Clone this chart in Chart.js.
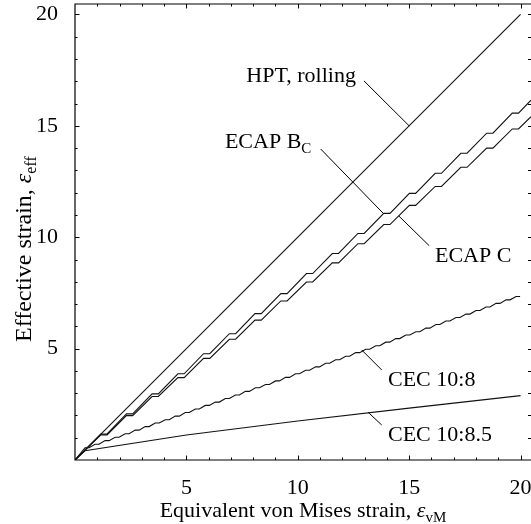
<!DOCTYPE html>
<html>
<head>
<meta charset="utf-8">
<script src="https://cdn.jsdelivr.net/npm/chart.js@4.4.0/dist/chart.umd.min.js"></script>
<style>
  html, body { margin: 0; padding: 0; background: #fff; }
</style>
</head>
<body>
<canvas id="strainChart" width="531" height="524"></canvas>
<script>
//-------------------- data --------------------
const xTickValues = [5, 10, 15, 20];
const yTickValues = [5, 10, 15, 20];

// HPT, rolling
const hptX = [0, 20];
const hptY = [0, 20];

// ECAP Bc (upper staircase)
const ecapBcX = [0, 1.16, 1.44, 2.31, 2.59, 3.46, 3.74, 4.62, 4.90, 5.77, 6.05, 6.93, 7.21, 8.08, 8.36,
  9.24, 9.52, 10.39, 10.67, 11.55, 11.83, 12.70, 12.98, 13.86, 14.14, 15.01, 15.29, 16.17, 16.45,
  17.32, 17.60, 18.48, 18.76, 19.63, 19.91, 20.47];
const ecapBcY = [0, 1.17, 1.17, 2.07, 2.07, 2.97, 2.97, 3.87, 3.87, 4.77, 4.77, 5.67, 5.67, 6.57, 6.57,
  7.47, 7.47, 8.37, 8.37, 9.27, 9.27, 10.17, 10.17, 11.07, 11.07, 11.97, 11.97, 12.87, 12.87,
  13.77, 13.77, 14.67, 14.67, 15.57, 15.57, 16.15];

// ECAP C (lower staircase)
const ecapCX = [0, 1.16, 1.44, 2.31, 2.59, 3.46, 3.74, 4.62, 4.90, 5.77, 6.05, 6.93, 7.21, 8.08, 8.36,
  9.24, 9.52, 10.39, 10.67, 11.55, 11.83, 12.70, 12.98, 13.86, 14.14, 15.01, 15.29, 16.17, 16.45,
  17.32, 17.60, 18.48, 18.76, 19.63, 19.91, 20.47];
const ecapCY = [0, 1.13, 1.13, 1.99, 1.99, 2.85, 2.85, 3.70, 3.70, 4.56, 4.56, 5.42, 5.42, 6.28, 6.28,
  7.14, 7.14, 7.99, 7.99, 8.85, 8.85, 9.71, 9.71, 10.57, 10.57, 11.43, 11.43, 12.28, 12.28,
  13.14, 13.14, 14.00, 14.00, 14.86, 14.86, 15.41];

// CEC 10:8 (small steps)
const cec8X = [0, 0.45, 0.63, 0.90, 1.08, 1.35, 1.53, 1.80, 1.98, 2.25, 2.43, 2.70, 2.88, 3.15, 3.33,
  3.60, 3.78, 4.05, 4.23, 4.50, 4.68, 4.95, 5.13, 5.40, 5.58, 5.85, 6.03, 6.30, 6.48, 6.75, 6.93,
  7.20, 7.38, 7.65, 7.83, 8.10, 8.28, 8.55, 8.73, 9.00, 9.18, 9.45, 9.63, 9.90, 10.08, 10.35, 10.53,
  10.80, 10.98, 11.25, 11.43, 11.70, 11.88, 12.15, 12.33, 12.60, 12.78, 13.05, 13.23, 13.50, 13.68,
  13.95, 14.13, 14.40, 14.58, 14.85, 15.03, 15.30, 15.48, 15.75, 15.93, 16.20, 16.38, 16.65, 16.83,
  17.10, 17.28, 17.55, 17.73, 18.00, 18.18, 18.45, 18.63, 18.90, 19.08, 19.35, 19.53, 19.80, 19.98];
const cec8Y = [0, 0.55, 0.55, 0.71, 0.71, 0.87, 0.87, 1.02, 1.02, 1.18, 1.18, 1.34, 1.34, 1.50, 1.50,
  1.66, 1.66, 1.81, 1.81, 1.97, 1.97, 2.13, 2.13, 2.29, 2.29, 2.45, 2.45, 2.60, 2.60, 2.76, 2.76,
  2.92, 2.92, 3.08, 3.08, 3.24, 3.24, 3.39, 3.39, 3.55, 3.55, 3.71, 3.71, 3.87, 3.87, 4.03, 4.03,
  4.18, 4.18, 4.34, 4.34, 4.50, 4.50, 4.66, 4.66, 4.82, 4.82, 4.97, 4.97, 5.13, 5.13,
  5.29, 5.29, 5.45, 5.45, 5.61, 5.61, 5.76, 5.76, 5.92, 5.92, 6.08, 6.08, 6.24, 6.24,
  6.40, 6.40, 6.55, 6.55, 6.71, 6.71, 6.87, 6.87, 7.03, 7.03, 7.19, 7.19, 7.34, 7.34];

// CEC 10:8.5
const cec85X = [0, 0.45, 5, 10, 15, 20];
const cec85Y = [0, 0.42, 1.12, 1.75, 2.33, 2.89];

//-------------------- helpers --------------------
const serif = '"Liberation Serif", "Times New Roman", serif';
const toPoints = (xs, ys) => xs.map((v, i) => ({ x: v, y: ys[i] }));

// draws a run of text pieces (plain, italic symbol, subscript) one after another
function drawRich(ctx, parts, x, y, align) {
  const widths = parts.map(p => { ctx.font = p.font; return ctx.measureText(p.text).width; });
  const total = widths.reduce((a, b) => a + b, 0);
  let cx = align === 'center' ? x - total / 2 : x;
  parts.forEach((p, i) => {
    ctx.font = p.font;
    ctx.fillText(p.text, cx, y + (p.dy || 0));
    cx += widths[i];
  });
}

// callouts, positions in data units
const labels = [
  { parts: [{ text: 'HPT, rolling' }], at: [12.61, 16.97], align: 'right', leader: [[12.97, 17.02], [15.0, 15.0]] },
  { parts: [{ text: 'ECAP B' }, { text: 'C', sub: true }], at: [6.73, 14.0], align: 'left', leader: [[11.03, 13.96], [13.84, 11.07]] },
  { parts: [{ text: 'ECAP C' }], at: [16.16, 8.91], align: 'left', leader: [[15.9, 9.62], [14.54, 10.95]] },
  { parts: [{ text: 'CEC 10:8' }], at: [14.05, 3.32], align: 'left', leader: [[13.77, 4.04], [12.87, 4.94]] },
  { parts: [{ text: 'CEC 10:8.5' }], at: [14.05, 0.85], align: 'left', leader: [[13.77, 1.57], [13.16, 2.14]] }
];

const framePlugin = {
  id: 'frame',
  afterDatasetsDraw(chart) {
    const { ctx, chartArea: a, scales: { x, y } } = chart;
    ctx.save();
    ctx.strokeStyle = '#000';
    ctx.lineWidth = 1.2;
    ctx.beginPath();
    ctx.moveTo(a.right + 1, a.top);
    ctx.lineTo(a.left, a.top);
    ctx.lineTo(a.left, a.bottom);
    ctx.lineTo(a.right + 1, a.bottom);
    ctx.stroke();
    // inward ticks, every unit, longer on the labelled ones
    ctx.lineWidth = 1;
    ctx.beginPath();
    for (let v = 1; v <= 20; v++) {
      const len = v % 5 === 0 ? 4.5 : 2.5;
      const px = Math.round(x.getPixelForValue(v)) + 0.5;
      const py = Math.round(y.getPixelForValue(v)) + 0.5;
      ctx.moveTo(px, a.bottom); ctx.lineTo(px, a.bottom - len);
      ctx.moveTo(px, a.top); ctx.lineTo(px, a.top + len);
      ctx.moveTo(a.left, py); ctx.lineTo(a.left + len, py);
      ctx.moveTo(a.right, py); ctx.lineTo(a.right - 3, py);
    }
    ctx.stroke();

    // callouts
    ctx.fillStyle = '#000';
    ctx.textBaseline = 'alphabetic';
    labels.forEach(l => {
      ctx.beginPath();
      ctx.moveTo(x.getPixelForValue(l.leader[0][0]), y.getPixelForValue(l.leader[0][1]));
      ctx.lineTo(x.getPixelForValue(l.leader[1][0]), y.getPixelForValue(l.leader[1][1]));
      ctx.stroke();
      const parts = l.parts.map(p => ({ text: p.text, font: (p.sub ? '15px ' : '22px ') + serif, dy: p.sub ? 5 : 0 }));
      let tx = x.getPixelForValue(l.at[0]);
      if (l.align === 'right') {
        ctx.font = '22px ' + serif;
        tx -= ctx.measureText(l.parts[0].text).width;
      }
      drawRich(ctx, parts, tx, y.getPixelForValue(l.at[1]), 'left');
    });

    // axis titles
    const mid = (a.left + a.right) / 2;
    drawRich(ctx, [
      { text: 'Equivalent von Mises strain, ', font: '22px ' + serif },
      { text: 'ε', font: 'italic 22px ' + serif },
      { text: 'vM', font: '15px ' + serif, dy: 5 }
    ], mid, 517, 'center');

    ctx.translate(31, a.bottom - 118);
    ctx.rotate(-Math.PI / 2);
    drawRich(ctx, [
      { text: 'Effective strain, ', font: '24px ' + serif },
      { text: 'ε', font: 'italic 24px ' + serif },
      { text: 'eff', font: '16px ' + serif, dy: 5 }
    ], 0, 0, 'left');
    ctx.restore();
  }
};

const ctx = document.getElementById('strainChart').getContext('2d');
new Chart(ctx, {
  type: 'line',
  data: {
    datasets: [
      { label: 'HPT, rolling', data: toPoints(hptX, hptY) },
      { label: 'ECAP Bc', data: toPoints(ecapBcX, ecapBcY) },
      { label: 'ECAP C', data: toPoints(ecapCX, ecapCY) },
      { label: 'CEC 10:8', data: toPoints(cec8X, cec8Y) },
      { label: 'CEC 10:8.5', data: toPoints(cec85X, cec85Y) }
    ]
  },
  options: {
    responsive: false,
    animation: false,
    layout: { padding: { top: 4, right: 0, left: 0, bottom: 0 } },
    plugins: { legend: { display: false }, tooltip: { enabled: false } },
    elements: {
      point: { radius: 0 },
      line: { borderColor: '#111', borderWidth: 1.1, tension: 0, fill: false }
    },
    scales: {
      x: {
        type: 'linear',
        min: 0,
        max: 20.47,
        grid: { display: false },
        border: { display: false },
        ticks: { color: '#000', font: { family: serif, size: 22 }, padding: 7, maxRotation: 0, autoSkip: false },
        afterBuildTicks: s => { s.ticks = xTickValues.map(v => ({ value: v })); },
        afterFit: s => { s.height = 64; s.paddingLeft = 0; s.paddingRight = 0; }
      },
      y: {
        type: 'linear',
        min: 0,
        max: 20.47,
        grid: { display: false },
        border: { display: false },
        ticks: { color: '#000', font: { family: serif, size: 22 }, padding: 9, autoSkip: false },
        afterBuildTicks: s => { s.ticks = yTickValues.map(v => ({ value: v })); },
        afterFit: s => { s.width = 75; s.paddingTop = 0; s.paddingBottom = 0; }
      }
    }
  },
  plugins: [framePlugin]
});
</script>
</body>
</html>
